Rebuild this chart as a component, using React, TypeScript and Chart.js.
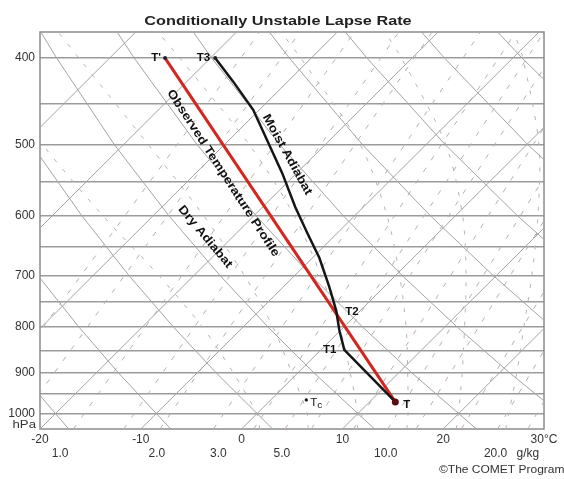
import React, { useEffect, useRef } from 'react';
import { Chart, registerables } from 'chart.js';

Chart.register(...registerables);

const FONT = "'Liberation Sans', Arial, Helvetica, sans-serif";

// ---- axes ----
const pressureTicks = [400, 450, 500, 550, 600, 650, 700, 750, 800, 850, 900, 950, 1000];
const pressureLabels = ['400', '', '500', '', '600', '', '700', '', '800', '', '900', '', '1000'];
const tempTicks = [-20, -10, 0, 10, 20, 30];
const tempLabels = ['-20', '-10', '0', '10', '20', '30°C'];
const mixingLabelValues = [-18.0, -8.4, -2.3, 4.0, 14.3, 25.2, 28.4];
const mixingLabels = ['1.0', '2.0', '3.0', '5.0', '10.0', '20.0', 'g/kg'];

// ---- background lines (skewed temperature coordinate) ----
// isotherms: value at bottom (1040 hPa) and top (374 hPa)
const isothermBottom = [-60, -50, -40, -30, -20, -10, 0, 10, 20, 30];
const isothermTop = [-20.5, -10.5, -0.5, 9.5, 19.5, 29.5, 39.5, 49.5, 59.5, 69.5];

// dry adiabats sampled at these pressures
const adiabatLevels = [1040, 900, 800, 700, 600, 500, 400, 374];
const dryAdiabat1 = [-17.15, -21.93, -25.51, -29.25, -33.15, -37.23, -41.44, -42.56];
const dryAdiabat2 = [-7.03, -12.22, -16.13, -20.22, -24.51, -29.02, -33.75, -35.01];
const dryAdiabat3 = [3.08, -2.52, -6.75, -11.19, -15.87, -20.82, -26.05, -27.46];
const dryAdiabat4 = [13.19, 7.18, 2.63, -2.16, -7.23, -12.62, -18.35, -19.91];
const dryAdiabat5 = [23.3, 16.89, 12.02, 6.87, 1.41, -4.41, -10.65, -12.35];
const dryAdiabat6 = [33.42, 26.59, 21.4, 15.91, 10.06, 3.79, -2.96, -4.8];
const dryAdiabat7 = [43.53, 36.29, 30.78, 24.94, 18.7, 11.99, 4.74, 2.75];
const dryAdiabat8 = [53.64, 46.0, 40.16, 33.97, 27.34, 20.2, 12.44, 10.3];
const dryAdiabat9 = [63.75, 55.7, 49.55, 43.0, 35.98, 28.4, 20.13, 17.85];
const dryAdiabat10 = [73.87, 65.4, 58.93, 52.03, 44.63, 36.61, 27.83, 25.4];
const dryAdiabats = [dryAdiabat1, dryAdiabat2, dryAdiabat3, dryAdiabat4, dryAdiabat5,
  dryAdiabat6, dryAdiabat7, dryAdiabat8, dryAdiabat9, dryAdiabat10];

// moist adiabats (dashed) sampled at these pressures
const moistLevels = [1040, 1000, 900, 800, 700, 600, 500, 400, 374];
const moistAdiabat1 = [1.8, 1.51, -0.82, -3.88, -8.23, -13.78, -19.75, -26.14, -28.0];
const moistAdiabat2 = [6.6, 6.51, 4.98, 3.12, 0.27, -3.78, -9.25, -16.14, -18.2];
const moistAdiabat3 = [11.5, 11.51, 10.78, 9.72, 7.87, 5.22, 0.76, -6.14, -8.3];
const moistAdiabat4 = [16.4, 16.51, 16.48, 16.32, 15.67, 14.42, 11.76, 5.86, 3.9];
const moistAdiabat5 = [21.3, 21.51, 21.88, 22.12, 22.27, 21.92, 20.26, 15.86, 14.2];
const moistAdiabat6 = [26.2, 26.5, 27.3, 28.0, 28.8, 29.4, 29.5, 27.9, 27.0];
const moistAdiabats = [moistAdiabat1, moistAdiabat2, moistAdiabat3, moistAdiabat4, moistAdiabat5, moistAdiabat6];

// mixing ratio lines: value at 1040 hPa and at 374 hPa
const mixingBottom = [-27.1, -22.6, -16.7, -11.7, -8.1, -2.8, 1.2, 4.3, 6.9, 11.1, 14.5, 17.3, 21.8, 25.4, 28.4];
const mixingTop = [1.8, 5.8, 11.2, 15.6, 18.9, 23.7, 27.2, 30.0, 32.3, 36.0, 39.0, 41.5, 45.5, 48.7, 51.3];

// ---- profiles ----
const observedT = [15.25, -7.59];
const observedP = [970, 400];
const parcelT = [15.25, 10.19, 9.69, 9.39, 8.7, 7.71, 6.61, 5.32, 4.03, 1.15, -0.83, -2.62];
const parcelP = [970, 848, 806, 767, 721, 669, 631, 587, 538, 457, 425, 400];

// ---- annotations ----
const labelTexts = ["T'", 'T3', 'T2', 'T1', 'T', 'Observed Temperature Profile', 'Moist Adiabat', 'Dry Adiabat'];
const labelT = [-7.59, -2.62, 9.39, 10.19, 15.25, -1.83, 4.53, -3.61];
const labelP = [400, 400, 767, 848, 970, 538, 513, 634];
const tcT = 6.42;
const tcP = 965;

function drawText(ctx: CanvasRenderingContext2D, text: string, x: number, y: number, font: string,
  color: string, align: CanvasTextAlign, sx = 1, angle = 0) {
  ctx.save();
  ctx.translate(x, y);
  if (angle) ctx.rotate((angle * Math.PI) / 180);
  ctx.scale(sx, 1);
  ctx.font = font;
  ctx.fillStyle = color;
  ctx.textAlign = align;
  ctx.textBaseline = 'middle';
  ctx.fillText(text, 0, 0);
  ctx.restore();
}

const skewPlugin = {
  id: 'skewText',
  beforeDatasetsDraw(chart: any) {
    const { ctx, chartArea: a } = chart;
    ctx.save();
    ctx.strokeStyle = '#8c8c8c';
    ctx.lineWidth = 1.5;
    ctx.strokeRect(a.left, a.top, a.right - a.left, a.bottom - a.top);
    ctx.restore();
  },
  afterDatasetsDraw(chart: any) {
    const { ctx } = chart;
    const xs = chart.scales.x;
    const ys = chart.scales.y;
    const bold = `bold 10px ${FONT}`;
    const px = (i: number) => xs.getPixelForValue(labelT[i]);
    const py = (i: number) => ys.getPixelForValue(labelP[i]);
    drawText(ctx, labelTexts[0], px(0) - 4, py(0), bold, '#111', 'right', 1.15);
    drawText(ctx, labelTexts[1], px(1) - 5, py(1), bold, '#111', 'right', 1.15);
    drawText(ctx, labelTexts[2], px(2) + 9, py(2) + 1, bold, '#111', 'left', 1.15);
    drawText(ctx, labelTexts[3], px(3) - 8, py(3), bold, '#111', 'right', 1.15);
    drawText(ctx, labelTexts[4], px(4) + 8, py(4) + 3, bold, '#111', 'left', 1.15);
    const rot = `bold 12px ${FONT}`;
    drawText(ctx, labelTexts[5], px(5), py(5), rot, '#111', 'center', 1.15, 57);
    drawText(ctx, labelTexts[6], px(6), py(6), rot, '#111', 'center', 1.15, 61);
    drawText(ctx, labelTexts[7], px(7), py(7), rot, '#111', 'center', 1.15, 50);
    // Tc
    const tx = xs.getPixelForValue(tcT);
    const ty = ys.getPixelForValue(tcP);
    ctx.save();
    ctx.fillStyle = '#111';
    ctx.beginPath();
    ctx.arc(tx, ty, 1.6, 0, Math.PI * 2);
    ctx.fill();
    ctx.restore();
    drawText(ctx, 'T', tx + 4, ty + 3, `10px ${FONT}`, '#111', 'left', 1.15);
    drawText(ctx, 'c', tx + 11, ty + 6, `9px ${FONT}`, '#111', 'left', 1.15);
  },
  afterDraw(chart: any) {
    const { ctx } = chart;
    drawText(ctx, 'Conditionally Unstable Lapse Rate', 278, 21, `bold 13px ${FONT}`, '#222', 'center', 1.25);
    drawText(ctx, 'hPa', 36, 425, `11px ${FONT}`, '#333', 'right', 1.2);
    drawText(ctx, '\u00A9The COMET Program', 439, 470, `10px ${FONT}`, '#333', 'left', 1.2);
  },
};

function line(points: { x: number; y: number }[], color: string, width: number, order: number, dash: number[] = []) {
  return {
    data: points,
    showLine: true,
    borderColor: color,
    borderWidth: width,
    borderDash: dash,
    pointRadius: 0,
    fill: false,
    tension: 0,
    order,
  };
}

export default function App() {
  const ref = useRef<HTMLCanvasElement>(null);

  useEffect(() => {
    if (!ref.current) return;
    const datasets: any[] = [];
    isothermBottom.forEach((b, i) => {
      datasets.push(line([{ x: b, y: 1040 }, { x: isothermTop[i], y: 374 }], '#a3a3a3', 1, 20));
    });
    dryAdiabats.forEach((arr) => {
      datasets.push(line(arr.map((v, j) => ({ x: v, y: adiabatLevels[j] })), '#a3a3a3', 1, 20));
    });
    moistAdiabats.forEach((arr) => {
      datasets.push({ ...line(arr.map((v, j) => ({ x: v, y: moistLevels[j] })), '#b4b4b4', 1, 22, [4, 9]), tension: 0.3 });
    });
    mixingBottom.forEach((b, i) => {
      datasets.push(line([{ x: b, y: 1040 }, { x: mixingTop[i], y: 374 }], '#c4a9a9', 1, 21, [5, 9]));
    });
    datasets.push(line(observedT.map((t, i) => ({ x: t, y: observedP[i] })), '#d3261f', 3, 2));
    datasets.push(line(parcelT.map((t, i) => ({ x: t, y: parcelP[i] })), '#161616', 2.5, 1));
    datasets.push({
      data: [
        { x: observedT[1], y: observedP[1] },
        { x: parcelT[parcelT.length - 1], y: parcelP[parcelP.length - 1] },
      ],
      showLine: false,
      pointRadius: 2,
      pointBackgroundColor: '#222',
      pointBorderWidth: 0,
      order: 0,
    });
    datasets.push({
      data: [{ x: observedT[0], y: observedP[0] }],
      showLine: false,
      pointRadius: 3.5,
      pointBackgroundColor: '#5a1010',
      pointBorderWidth: 0,
      order: 0,
    });

    const chart = new Chart(ref.current, {
      type: 'scatter',
      data: { datasets },
      options: {
        responsive: false,
        animation: false,
        events: [],
        layout: { padding: { top: 32, right: 20, left: 0, bottom: 0 } },
        plugins: { legend: { display: false }, tooltip: { enabled: false }, title: { display: false } },
        scales: {
          x: {
            type: 'linear',
            position: 'bottom',
            min: -20,
            max: 30,
            grid: { display: false, drawTicks: false },
            border: { display: false },
            afterBuildTicks: (s: any) => { s.ticks = tempTicks.map((v) => ({ value: v })); },
            afterFit: (s: any) => { s.height = 17; },
            ticks: {
              autoSkip: false,
              maxRotation: 0,
              padding: 3,
              color: '#333',
              font: { size: 12, family: FONT },
              callback: (_v: any, i: number) => tempLabels[i],
            },
          },
          x2: {
            type: 'linear',
            position: 'bottom',
            min: -20,
            max: 30,
            grid: { display: false, drawTicks: false },
            border: { display: false },
            afterBuildTicks: (s: any) => { s.ticks = mixingLabelValues.map((v) => ({ value: v })); },
            afterFit: (s: any) => { s.height = 33; },
            ticks: {
              autoSkip: false,
              maxRotation: 0,
              padding: 0,
              color: '#333',
              font: { size: 12, family: FONT },
              callback: (_v: any, i: number) => mixingLabels[i],
            },
          },
          y: {
            type: 'logarithmic',
            position: 'left',
            min: 374,
            max: 1040,
            reverse: true,
            grid: { color: '#9b9b9b', lineWidth: 1.5, drawTicks: false },
            border: { display: false },
            afterBuildTicks: (s: any) => { s.ticks = pressureTicks.map((v) => ({ value: v })); },
            afterFit: (s: any) => { s.width = 40; },
            ticks: {
              autoSkip: false,
              padding: 5,
              color: '#333',
              font: { size: 12, family: FONT },
              callback: (_v: any, i: number) => pressureLabels[i],
            },
          },
        },
      } as any,
      plugins: [skewPlugin],
    });
    return () => chart.destroy();
  }, []);

  return (
    <div style={{ position: 'fixed', left: 0, top: 0, width: 564, height: 479, background: '#fff' }}>
      <canvas ref={ref} width={564} height={479} style={{ display: 'block', width: 564, height: 479 }} />
    </div>
  );
}
